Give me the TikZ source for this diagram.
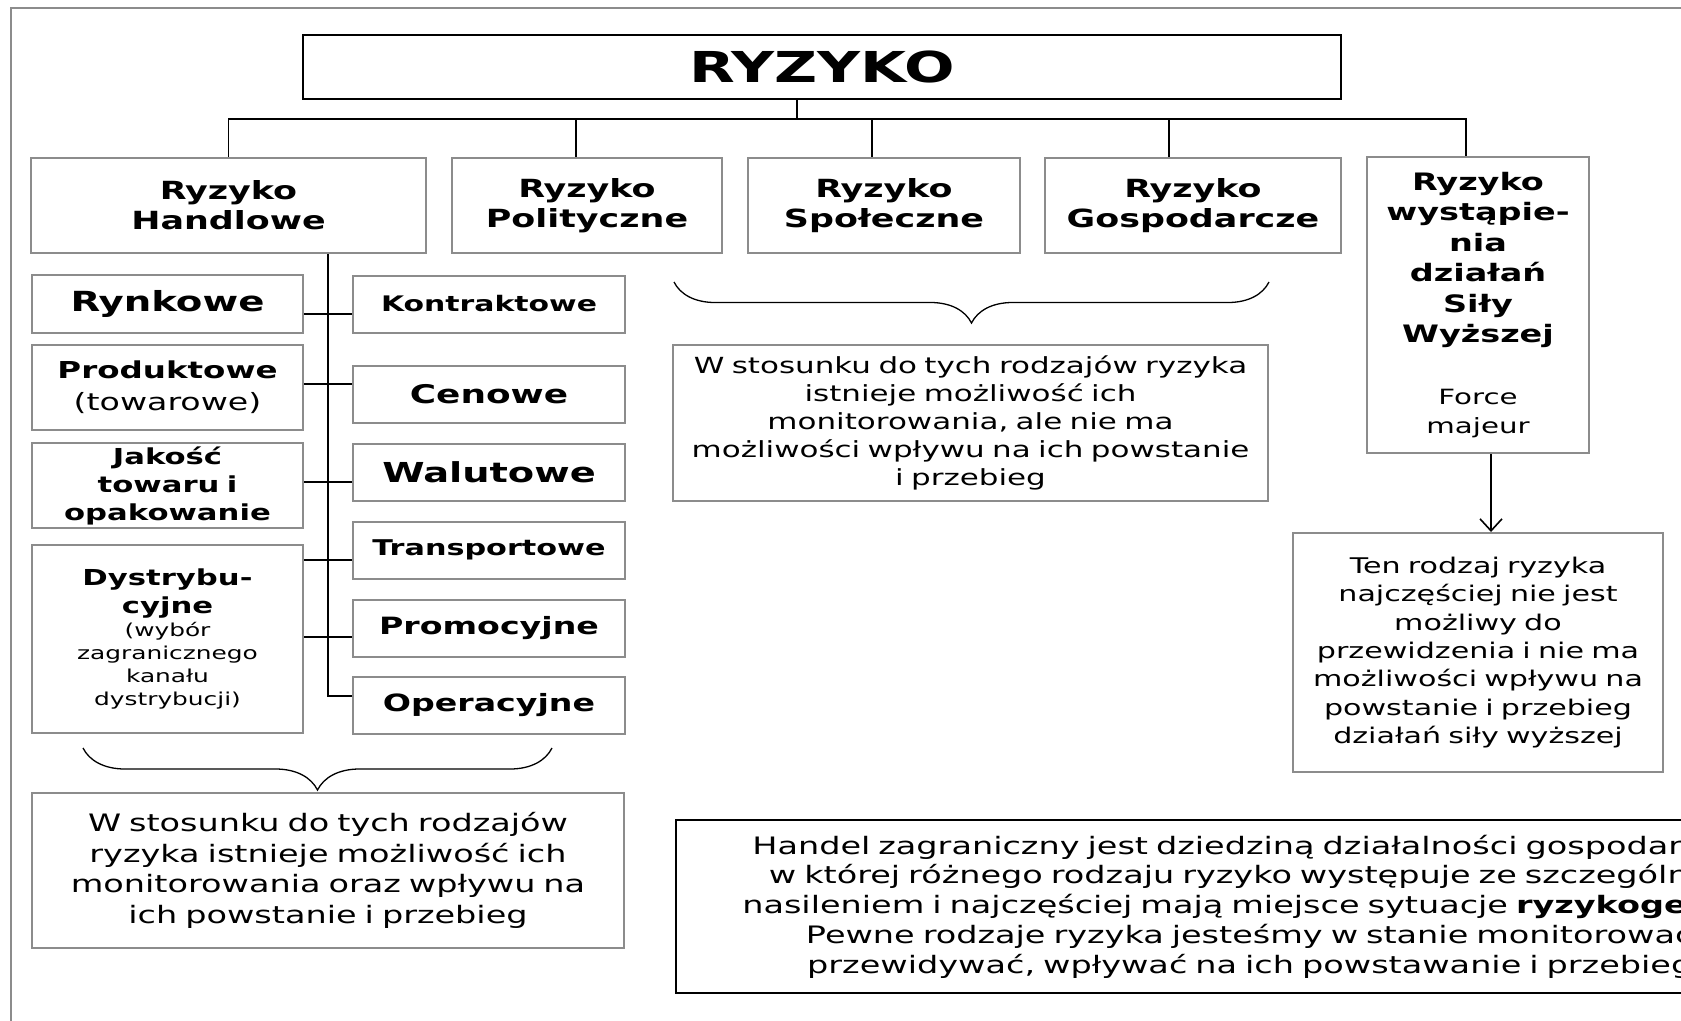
\documentclass[tikz,border=0pt]{standalone}
\usepackage{fontspec}
\setmainfont{DejaVu Sans}[FakeStretch=1.395]
\usetikzlibrary{positioning, arrows.meta, decorations.pathreplacing}
\definecolor{boxgray}{HTML}{8C8C8C}
\newcommand{\fsz}[2]{\fontsize{#1}{#2}\selectfont}
\tikzset{
	every block/.style={draw=boxgray, line width=2pt, align=center, inner sep=0pt},
	black block/.style={every block, draw=black},
	link/.style={line width=1.6pt},
	curly/.style={line width=1.3pt, decorate, decoration={brace, mirror, amplitude=#1}},
}

\begin{document}
\begin{tikzpicture}[x=1pt, y=-1pt]
	\useasboundingbox (0,0) rectangle (1681,1020);
	\clip (0,0) rectangle (1681,1020);
	\draw [boxgray, line width=2pt] (11,1100) |- (1800,7.5);

	\node [black block, minimum width=1038pt, minimum height=64pt, font=\fsz{42.6}{50}\bfseries] (ryzyko) at (822,67) {RYZYKO};

	\foreach \n/\t/\x/\w in {handlowe/Handlowe/228.5/395pt, polityczne/Polityczne/587/270pt, spoleczne/Społeczne/884/272pt, gospodarcze/Gospodarcze/1193/296pt} {
		\node [every block, minimum width=\w, minimum height=95pt, text width=\w, font=\fsz{25}{30}\bfseries] (r-\n) at (\x,205.5) {Ryzyko\\\t};
	};
	\node [every block, minimum width=222pt, minimum height=296pt, text width=222pt] (r-sila) at (1478,305) {
		{\fsz{24}{30.5}\bfseries Ryzyko\\wystąpie-\\nia\\działań\\Siły\\Wyższej\par}
		\vspace{33pt}
		{\fsz{21}{29}Force\\majeur\par}
	};

	\coordinate (bus) at (797,119);
	\draw [link] (ryzyko.south -| bus) -- (bus);
	\foreach \n/\dx in {handlowe/0pt, polityczne/-11pt, spoleczne/-12pt, gospodarcze/-24pt, sila/-12pt} {
		\draw [link] (bus) -| ([xshift=\dx]r-\n.north);
	};

	\node [every block, minimum width=271pt, minimum height=58pt, text width=271pt, font=\fsz{27.7}{32}\bfseries] (a-1) at (167.5,304) {Rynkowe};
	\node [every block, minimum width=271pt, minimum height=85pt, text width=271pt] (a-2) at (167.5,387.5) {
		{\fsz{23.3}{32}\bfseries Produktowe\par}
		{\fsz{23.8}{32}(towarowe)\par}
	};
	\node [every block, minimum width=271pt, minimum height=85pt, text width=271pt, font=\fsz{22}{28}\bfseries] (a-3) at (167.5,485.5) {Jakość\\towaru i\\opakowanie};
	\node [every block, minimum width=271pt, minimum height=188pt, text width=271pt] (a-4) at (167.5,639) {
		{\fsz{22}{28}\bfseries Dystrybu-\\cyjne\par}
		{\fsz{17.8}{23}(wybór\\zagranicznego\\kanału\\dystrybucji)\par}
	};

	\foreach \t/\y/\s [count=\i] in {Kontraktowe/304/21.4, Cenowe/394.5/25.7, Walutowe/472/27.5, Transportowe/550/21.7, Promocyjne/628/23.8, Operacyjne/705/23.8} {
		\node [every block, minimum width=272pt, minimum height=57pt, text width=272pt, font=\fsz{\s}{30}\bfseries] (b-\i) at (489,\y) {\t};
	};

	\coordinate (trunk) at (328,696);
	\draw [link] (r-handlowe.south -| trunk) -- (trunk) -- (b-6.west |- trunk);
	\foreach \a/\b/\y [count=\i] in {1/1/314, 2/2/384, 3/3/482, 4/4/560, 4/5/637} {
		\coordinate (row-\i) at (0,\y);
		\draw [link] (a-\a.east |- row-\i) -- (b-\b.west |- row-\i);
	};

	\draw [curly=42pt] (83,748) -- (552,748);
	\draw [curly=41pt] (674,282) -- (1269,282);

	\node [every block, minimum width=592pt, minimum height=155pt, text width=592pt, font=\fsz{24}{30.7}] (n-left) at (328,870.5) {W stosunku do tych rodzajów\\ryzyka istnieje możliwość ich\\monitorowania oraz wpływu na\\ich powstanie i przebieg};
	\node [every block, minimum width=595pt, minimum height=156pt, text width=595pt, font=\fsz{22.2}{28}] (n-mid) at (970.5,423) {W stosunku do tych rodzajów ryzyka\\istnieje możliwość ich\\monitorowania, ale nie ma\\możliwości wpływu na ich powstanie\\i przebieg};
	\node [every block, minimum width=370pt, minimum height=239pt, text width=370pt, font=\fsz{21.6}{28.3}] (n-sila) at (1478,652.5) {Ten rodzaj ryzyka\\najczęściej nie jest\\możliwy do\\przewidzenia i nie ma\\możliwości wpływu na\\powstanie i przebieg\\działań siły wyższej};
	\node [black block, line width=2.5pt, minimum width=1158pt, minimum height=173pt, text width=1158pt, font=\fsz{24}{29.7}] (n-handel) at (1255,906.5) {Handel zagraniczny jest dziedziną działalności gospodarczej,\\w której różnego rodzaju ryzyko występuje ze szczególnym\\nasileniem i najczęściej mają miejsce sytuacje \textbf{ryzykogenne}.\\Pewne rodzaje ryzyka jesteśmy w stanie monitorować,\\przewidywać, wpływać na ich powstawanie i przebieg.};

	\draw [link, -{Straight Barb[length=12pt, width=22pt]}] ([xshift=13pt]r-sila.south) -- ([xshift=13pt]n-sila.north);
\end{tikzpicture}
\end{document}
